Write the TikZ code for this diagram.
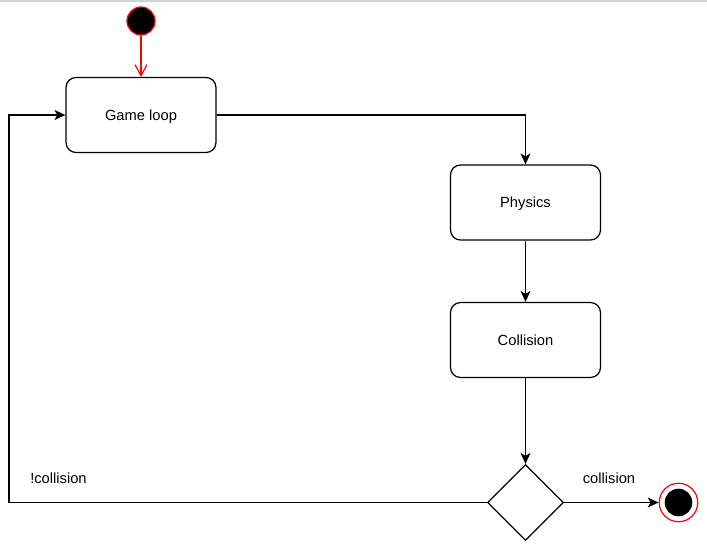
\documentclass[tikz,border=0pt]{standalone}
\usepackage{fontspec}
\setmainfont{Liberation Sans}
\usetikzlibrary{shapes.geometric,arrows.meta}
\tikzset{
  statebox/.style={draw=black, line width=1.2pt, rounded corners=10pt, fill=white,
    minimum width=150pt, minimum height=75pt, inner sep=0pt, text height=10.5pt, text depth=0pt,
    font=\fontsize{14.7}{17}\selectfont},
  decision/.style={draw=black, line width=1.2pt, diamond, fill=white,
    minimum width=76pt, minimum height=76pt, inner sep=0pt},
  flow/.style={draw=black, line width=1.2pt, -{Stealth[length=11pt,width=10pt,inset=3pt]}},
  startflow/.style={draw=red, line width=1.2pt, -{Straight Barb[length=11pt,width=12pt]}},
  lbl/.style={font=\fontsize{14.7}{17}\selectfont, inner sep=0pt, text height=10.5pt, text depth=0pt}
}
\begin{document}
\begin{tikzpicture}[x=1pt,y=-1pt]
\useasboundingbox (0,0) rectangle (707,555);
\fill[gray!35] (0,0) rectangle (707,2);
\node[circle, draw=red, line width=1.2pt, fill=black, minimum size=28pt, inner sep=0pt] (start) at (141,21) {};
\node[statebox] (game) at (141,115) {Game loop};
\node[statebox] (phys) at (525.5,202.5) {Physics};
\node[statebox] (coll) at (525.5,340) {Collision};
\node[decision] (dec) at (525.5,502.5) {};
\node[circle, draw=red, line width=1.2pt, fill=white, minimum size=38.5pt, inner sep=0pt] (end) at (678.5,502.5) {};
\fill[black] (end.center) circle (13.8pt);
\coordinate (lb) at (9,502.5);
\coordinate (lt) at (9,115);
\coordinate (rt) at (525.5,115);
\draw[startflow] (start) -- (game);
\draw[flow] (game.east) -- (rt) -- (phys.north);
\draw[flow] (phys) -- (coll);
\draw[flow] (coll) -- (dec);
\draw[flow] (dec.east) -- (end);
\draw[flow] (dec.west) -- (lb) -- (lt) -- (game.west);
\node[lbl] (lc) at (609,478) {collision};
\node[lbl] (lnc) at (58.5,478) {!collision};
\end{tikzpicture}
\end{document}
